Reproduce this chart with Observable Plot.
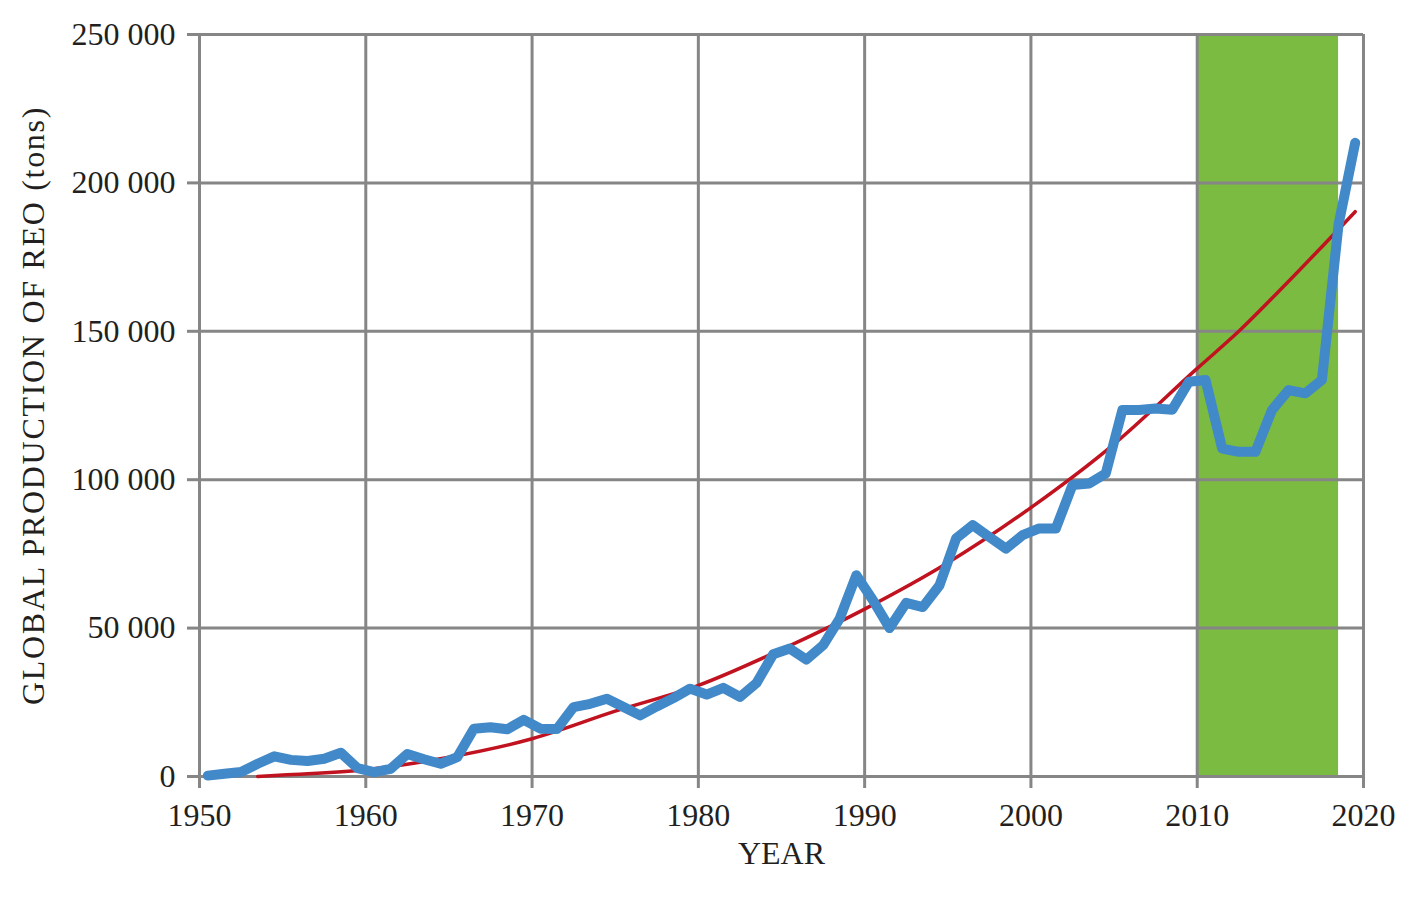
<!DOCTYPE html>
<html>
<head>
<meta charset="utf-8">
<script src="https://cdn.jsdelivr.net/npm/d3@7"></script>
<script src="https://cdn.jsdelivr.net/npm/@observablehq/plot@0.6"></script>
<style>
  html, body { margin: 0; padding: 0; background: #fff; }
  #chart svg { display: block; }
</style>
</head>
<body>
<div id="chart"></div>
<script>
// ---- data ----
const years = [1950,1951,1952,1953,1954,1955,1956,1957,1958,1959,
  1960,1961,1962,1963,1964,1965,1966,1967,1968,1969,
  1970,1971,1972,1973,1974,1975,1976,1977,1978,1979,
  1980,1981,1982,1983,1984,1985,1986,1987,1988,1989,
  1990,1991,1992,1993,1994,1995,1996,1997,1998,1999,
  2000,2001,2002,2003,2004,2005,2006,2007,2008,2009,
  2010,2011,2012,2013,2014,2015,2016,2017,2018,2019];
const production = [300,900,1500,4300,6800,5600,5200,6000,8000,2800,
  1500,2600,7600,5800,4300,6500,16100,16600,15900,19100,
  16100,16000,23400,24500,26200,23400,20600,23600,26400,29600,
  27600,29900,26800,31500,41200,43100,39400,44200,53200,67800,
  59400,50000,58500,57100,64400,80200,84700,80700,76800,81300,
  83600,83600,98200,98700,102100,123500,123500,124000,123600,133000,
  133600,110500,109400,109400,123500,130200,129100,133600,186000,213500];
const trendYears = [1953.5,1955,1960,1965,1970,1975,1980,1985,1990,1995,2000,2005,2010,2012.5,2015,2019.5];
const trendValues = [0,500,2300,6500,12700,22000,30700,42800,56400,72000,90600,112000,137500,150000,164000,190300];
const bandStart = [2010];
const bandEnd = [2018.5];
const xTicks = [1950,1960,1970,1980,1990,2000,2010,2020];
const yTicks = [0,50000,100000,150000,200000,250000];
const xLabel = "YEAR";
const yLabel = "GLOBAL PRODUCTION OF REO (tons)";

const series = years.map((y, i) => ({year: y, value: production[i]}));
const trend = trendYears.map((y, i) => ({year: y, value: trendValues[i]}));
const band = bandStart.map((s, i) => ({x1: s, x2: bandEnd[i]}));

const GRAY = "#868686";
const TEXT = "#231f20";
const fmt = d => d3.format(",")(d).replace(/,/g, " ");

const chart = Plot.plot({
  width: 1401,
  height: 897,
  marginLeft: 199,
  marginRight: 38,
  marginTop: 34,
  marginBottom: 121,
  style: {fontFamily: "'Liberation Serif', 'DejaVu Serif', serif", fontSize: "32px", color: TEXT, background: "#fff"},
  x: {domain: [1950, 2020]},
  y: {domain: [0, 250000]},
  marks: [
    Plot.rect(band, {x1: "x1", x2: "x2", y1: 0, y2: 250000, fill: "#7bbb41"}),
    Plot.ruleX(xTicks, {stroke: GRAY, strokeWidth: 3}),
    Plot.ruleY(yTicks, {stroke: GRAY, strokeWidth: 3}),
    Plot.axisX(xTicks, {tickSize: 12, tickPadding: 15, tickFormat: d => String(d), stroke: GRAY, strokeWidth: 3, fill: TEXT, label: null}),
    Plot.axisY(yTicks, {tickSize: 12, tickPadding: 12, tickFormat: fmt, stroke: GRAY, strokeWidth: 3, fill: TEXT, label: null}),
    Plot.line(trend, {x: "year", y: "value", stroke: "#c1121f", strokeWidth: 3.5, curve: "monotone-x"}),
    Plot.line(series, {x: d => d.year + 0.5, y: "value", stroke: "#4189c8", strokeWidth: 10, strokeLinejoin: "round", strokeLinecap: "round"}),
    Plot.text([xLabel], {frameAnchor: "bottom", dy: 87, fill: TEXT, textAnchor: "middle"}),
    Plot.text([yLabel], {frameAnchor: "left", dx: -166, rotate: -90, fill: TEXT, textAnchor: "middle"})
  ]
});
document.getElementById("chart").appendChild(chart);
d3.select(chart).selectAll("text").filter(function() { return this.textContent === yLabel; })
  .attr("letter-spacing", "1.7px");
</script>
</body>
</html>
